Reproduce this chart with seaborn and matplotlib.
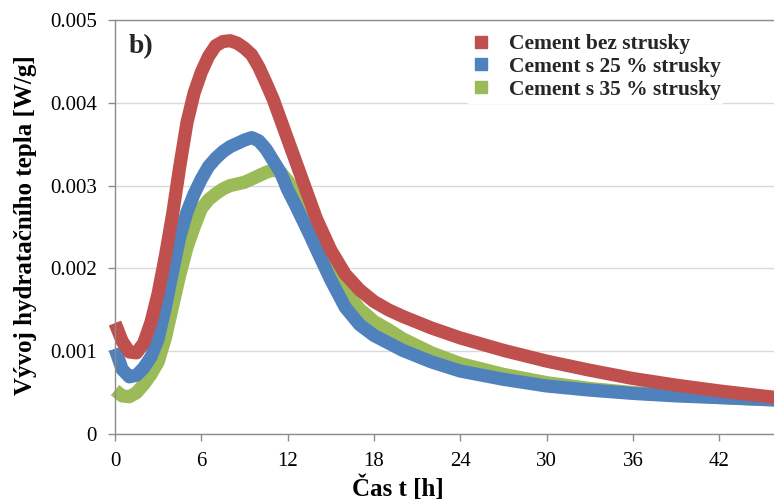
import numpy as np
import pandas as pd
import matplotlib
matplotlib.use("Agg")
import matplotlib.pyplot as plt
from matplotlib.lines import Line2D
import seaborn as sns

hours = [0, 0.5, 1, 1.5, 2, 2.5, 3, 3.5, 4, 4.5, 5, 5.5, 6, 6.5, 7, 7.5, 8,
         8.5, 9, 9.5, 10, 10.5, 11, 11.5, 12, 12.5, 13, 13.5, 14, 15, 16, 17,
         18, 19, 20, 22, 24, 27, 30, 33, 36, 39, 42, 46]

cement_bez = [0.00134, 0.00112, 0.00099, 0.00098, 0.00110, 0.00135, 0.00170,
              0.00215, 0.00265, 0.00323, 0.00376, 0.00412, 0.00437, 0.00456,
              0.00469, 0.00474, 0.00475, 0.00472, 0.00466, 0.00458, 0.00443,
              0.00424, 0.00404, 0.00380, 0.00356, 0.00332, 0.00308, 0.00284,
              0.00260, 0.00222, 0.00193, 0.00174, 0.00160, 0.00150, 0.00142,
              0.00128, 0.00116, 0.00101, 0.00088, 0.00077, 0.00067, 0.00059,
              0.00052, 0.00044]

cement_25 = [0.00103, 0.00078, 0.00069, 0.00071, 0.00080, 0.00093, 0.00115,
             0.00153, 0.00196, 0.00238, 0.00268, 0.00290, 0.00308, 0.00323,
             0.00333, 0.00341, 0.00347, 0.00351, 0.00355, 0.00358, 0.00354,
             0.00344, 0.00330, 0.00316, 0.00295, 0.00278, 0.00260, 0.00242,
             0.00223, 0.00186, 0.00153, 0.00132, 0.00119, 0.00110, 0.00101,
             0.00087, 0.00076, 0.00066, 0.00058, 0.00053, 0.00049, 0.00046,
             0.00044, 0.00041]

cement_35 = [0.00053, 0.00046, 0.00045, 0.00050, 0.00060, 0.00072, 0.00087,
             0.00116, 0.00154, 0.00192, 0.00225, 0.00250, 0.00272, 0.00283,
             0.00290, 0.00296, 0.00300, 0.00302, 0.00304, 0.00308, 0.00312,
             0.00316, 0.00319, 0.00316, 0.00306, 0.00294, 0.00280, 0.00265,
             0.00248, 0.00206, 0.00173, 0.00151, 0.00136, 0.00126, 0.00115,
             0.00098, 0.00085, 0.00072, 0.00062, 0.00055, 0.00050, 0.00047,
             0.00044, 0.00041]

series_names = ["Cement bez strusky", "Cement s 25 % strusky", "Cement s 35 % strusky"]
series_colors = ["#C0504D", "#4F81BD", "#9BBB59"]
x_ticks = [0, 6, 12, 18, 24, 30, 36, 42]
y_ticks = [0, 0.001, 0.002, 0.003, 0.004, 0.005]
y_tick_labels = ["0", "0.001", "0.002", "0.003", "0.004", "0.005"]

df = pd.concat([
    pd.DataFrame({"t": hours, "q": vals, "serie": name})
    for name, vals in zip(series_names, [cement_bez, cement_25, cement_35])
], ignore_index=True)

sns.set_theme(style="white")
plt.rcParams["font.family"] = ["Liberation Serif", "DejaVu Serif"]

fig = plt.figure(figsize=(7.74, 5.04), dpi=100)
ax = fig.add_axes([115 / 774, 70 / 504, 659 / 774, 414 / 504])

palette = dict(zip(series_names, series_colors))
draw_order = [series_names[2], series_names[1], series_names[0]]
sns.lineplot(data=df, x="t", y="q", hue="serie", hue_order=draw_order,
             palette=palette, linewidth=9.5, ax=ax, legend=False, sort=True,
             estimator=None)
for ln in ax.lines:
    ln.set_solid_capstyle("butt")
    ln.set_solid_joinstyle("round")
    ln.set_clip_on(False)

ax.set_xlim(0, 45.8)
ax.set_ylim(0, 0.005)
ax.set_xticks(x_ticks)
ax.set_xticklabels([str(v) for v in x_ticks])
ax.set_yticks(y_ticks)
ax.set_yticklabels(y_tick_labels)
ax.grid(axis="y", color="#D9D9D9", linewidth=1.0)
ax.grid(axis="x", visible=False)
ax.set_axisbelow(True)

for side in ["left", "bottom", "top"]:
    ax.spines[side].set_color("#8C8C8C")
    ax.spines[side].set_linewidth(1.0)
ax.spines["right"].set_visible(False)

ax.tick_params(axis="both", which="major", labelsize=15, colors="#8C8C8C",
               labelcolor="black", length=5, width=1.0, direction="out")
ax.tick_params(axis="y", pad=8, left=True)
ax.tick_params(axis="x", pad=8, bottom=True)

ax.set_xlabel("Čas t [h]", fontsize=18, fontweight="bold", color="black")
ax.xaxis.set_label_coords((398 - 115) / 659, -0.1)
ax.set_ylabel("Vývoj hydratačního tepla [W/g]", fontsize=18, fontweight="bold", color="black")
ax.yaxis.set_label_coords(-0.118, 0.505)

ax.text(0.02, 0.965, "b)", transform=ax.transAxes, fontsize=20,
        fontweight="bold", va="top", ha="left")

handles = [Line2D([0], [0], marker="s", linestyle="none", markersize=8,
                  markerfacecolor=c, markeredgecolor=c) for c in series_colors]
leg = ax.legend(handles, series_names, loc="upper left",
                bbox_to_anchor=((466 - 115) / 659, (434 - 30) / 414),
                frameon=True, facecolor="white", edgecolor="white", framealpha=1,
                prop={"family": ["Liberation Serif"], "weight": "bold", "size": 15.5},
                handletextpad=0.8, labelspacing=0.12, borderpad=0.2, handlelength=1.0,
                borderaxespad=0)
leg.get_frame().set_linewidth(0)

fig.savefig("out.png", dpi=100)
